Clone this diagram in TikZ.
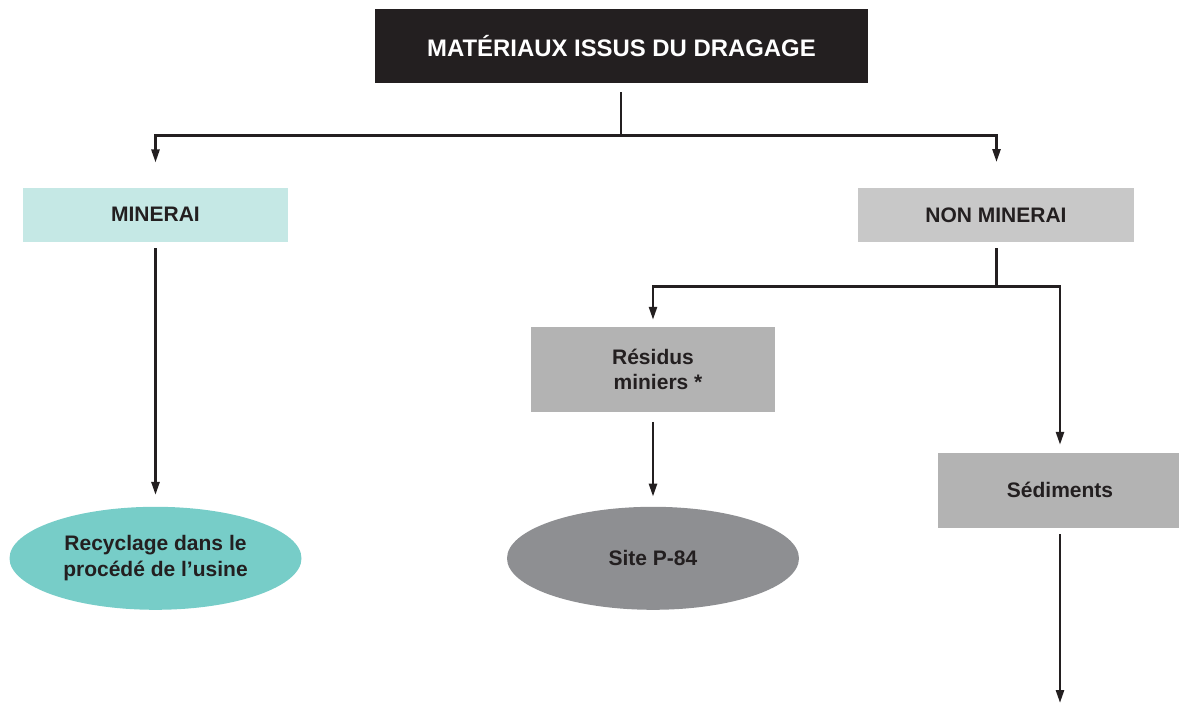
\documentclass[tikz,border=0pt]{standalone}
\usepackage{fontspec}
\setmainfont{Liberation Sans}
\usetikzlibrary{arrows.meta,shapes.geometric}
\definecolor{ink}{HTML}{231F20}
\definecolor{mineraibox}{HTML}{C5E8E5}
\definecolor{recyclfill}{HTML}{77CDC8}
\definecolor{nonminbox}{HTML}{C8C8C8}
\definecolor{greybox}{HTML}{B3B3B3}
\definecolor{sitefill}{HTML}{8E8F92}
\begin{document}
\begin{tikzpicture}[x=1pt,y=-1pt,
  box/.style={rectangle, inner sep=0pt, text=ink, align=center,
    font=\fontsize{21}{25.5}\selectfont\bfseries},
  ell/.style={ellipse, inner sep=0pt, text=ink, align=center,
    minimum width=292pt, minimum height=103pt,
    font=\fontsize{21}{25.5}\selectfont\bfseries},
  wire/.style={draw=ink, line width=2.5pt},
  conn/.style={wire, -{Triangle[width=8pt,length=13pt]}}
]
\useasboundingbox (0,0) rectangle (1179,706);

\node[box, fill=ink, text=white, minimum width=493pt, minimum height=74pt,
  font=\fontsize{23.9}{28}\selectfont\bfseries] (top) at (621.5,46) {MATÉRIAUX ISSUS DU DRAGAGE};

\node[box, fill=mineraibox, minimum width=265pt, minimum height=54pt] (minerai) at (155.5,214.7) {MINERAI};
\node[box, fill=nonminbox, minimum width=276pt, minimum height=53.5pt] (nonmin) at (996,215) {NON MINERAI};
\node[box, fill=greybox, minimum width=244pt, minimum height=84.5pt] (residus) at (653,369.5) {Résidus\\\hspace*{10pt}miniers *};
\node[box, fill=greybox, minimum width=244pt, minimum height=75pt] (sediments) at (1060,490.2) {Sédiments};

\node[ell, fill=recyclfill] (recycl) at (155.5,558.3) {Recyclage dans le\\procédé de l’usine};
\node[ell, fill=sitefill] (site) at (653,558.3) {Site P-84};

\coordinate (j1) at (621,135.5);
\coordinate (j2) at (996.5,286.7);
\coordinate (endsed) at (1060,703);

\draw[wire] ([yshift=-9pt]top.south -| j1) -- (j1);
\draw[conn, shorten >=25pt] (j1) -| (minerai.north);
\draw[conn, shorten >=26pt] (j1) -| (nonmin.north -| j2);

\draw[conn, shorten >=11.7pt] ([yshift=-6.5pt]minerai.south) -- (recycl.north);

\draw[wire] ([yshift=-6.5pt]nonmin.south -| j2) -- (j2);
\draw[conn, shorten >=7.3pt] (j2) -| (residus.north);
\draw[conn, shorten >=7.7pt] (j2) -| (sediments.north);

\draw[conn, shorten >=10pt] ([yshift=-10pt]residus.south) -- (site.north);
\draw[conn] ([yshift=-6.5pt]sediments.south) -- (endsed);
\end{tikzpicture}
\end{document}
